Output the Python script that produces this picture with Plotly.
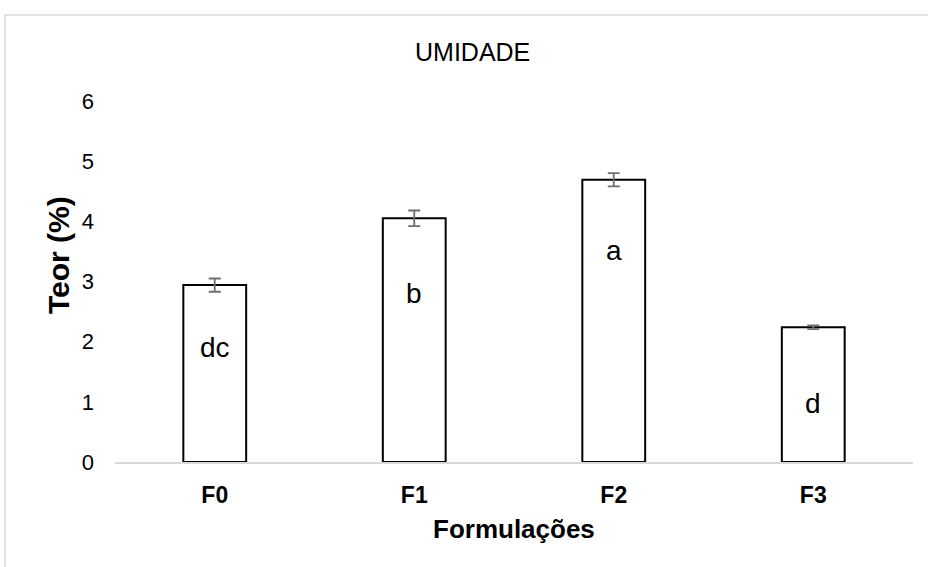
import plotly.graph_objects as go

# Moisture content (%) per formulation
formulacoes = ["F0", "F1", "F2", "F3"]
teor = [2.94, 4.05, 4.69, 2.24]
desvio = [0.11, 0.13, 0.11, 0.03]
letras = ["dc", "b", "a", "d"]
letras_y = [1.9, 2.8, 3.52, 0.98]

FONT = "Arial, Liberation Sans, sans-serif"

W, H = 928, 567
L, R, T, B = 115, 15, 101, 105
pw, ph = W - L - R, H - T - B


def px_x(x):
    return (x - L) / pw


def px_y(y):
    return (H - B - y) / ph


fig = go.Figure()
fig.add_trace(go.Bar(
    x=formulacoes,
    y=teor,
    width=0.315,
    marker=dict(color="white", line=dict(color="black", width=2)),
    error_y=dict(type="data", array=desvio, visible=True,
                 color="#6f6f6f", thickness=1.8, width=6),
    hoverinfo="x+y",
))

for cat, lab, ly in zip(formulacoes, letras, letras_y):
    fig.add_annotation(x=cat, y=ly, text=lab, showarrow=False,
                       font=dict(family=FONT, size=28, color="black"),
                       xanchor="center", yanchor="middle")

# Chart title
fig.add_annotation(xref="paper", yref="paper", x=px_x(472.5), y=px_y(52),
                   text="UMIDADE", showarrow=False,
                   font=dict(family=FONT, size=25, color="black"),
                   xanchor="center", yanchor="middle")
# Axis titles
fig.add_annotation(xref="paper", yref="paper", x=px_x(513.5), y=px_y(529),
                   text="<b>Formulações</b>", showarrow=False,
                   font=dict(family=FONT, size=26, color="black"),
                   xanchor="center", yanchor="middle")
fig.add_annotation(xref="paper", yref="paper", x=px_x(58), y=px_y(255),
                   text="<b>Teor (%)</b>", showarrow=False, textangle=-90,
                   font=dict(family=FONT, size=30, color="black"),
                   xanchor="center", yanchor="middle")

# Chart-area frame
fig.add_shape(type="rect", xref="paper", yref="paper",
              x0=px_x(5), y0=px_y(575), x1=px_x(935), y1=px_y(15),
              line=dict(color="#d9d9d9", width=1.5), fillcolor="rgba(0,0,0,0)",
              layer="below")

fig.update_layout(
    width=W, height=H,
    margin=dict(l=L, r=R, t=T, b=B),
    plot_bgcolor="white", paper_bgcolor="white",
    showlegend=False,
    font=dict(family=FONT, color="black"),
    xaxis=dict(
        showline=True, linecolor="#d9d9d9", linewidth=1.5,
        showgrid=False, ticks="", ticklabelstandoff=12,
        tickfont=dict(family=FONT, size=23, color="black"),
        tickprefix="<b>", ticksuffix="</b>",
        fixedrange=True,
    ),
    yaxis=dict(
        range=[0, 6], dtick=1, showgrid=False, zeroline=False,
        showline=False, ticks="", ticklabelstandoff=20,
        tickfont=dict(family=FONT, size=22, color="black"),
        fixedrange=True,
    ),
)

fig.write_html("out.html")
